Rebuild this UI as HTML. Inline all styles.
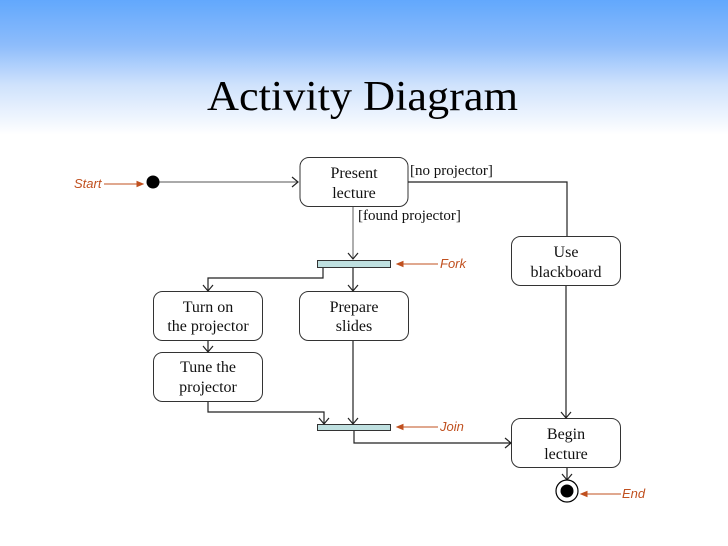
<!DOCTYPE html>
<html><head><meta charset="utf-8"><style>
html,body{margin:0;padding:0}
body{width:728px;height:546px;overflow:hidden;background:linear-gradient(to bottom,#62a8fd 0px,#8dbcfb 45px,#cfe2fc 85px,#ffffff 135px,#ffffff 546px)}
</style></head><body>
<svg width="728" height="546" xmlns="http://www.w3.org/2000/svg" style="position:absolute;left:0;top:0">
<text x="207" y="110" font-family="Liberation Serif,serif" font-size="42" textLength="311" lengthAdjust="spacingAndGlyphs" fill="#000">Activity Diagram</text>
<g fill="#fff" stroke="#333" stroke-width="1">
<rect x="300" y="157.5" width="108" height="49" rx="9"/>
<rect x="511.5" y="236.5" width="109" height="49" rx="9"/>
<rect x="153.5" y="291.5" width="109" height="49" rx="9"/>
<rect x="299.5" y="291.5" width="109" height="49" rx="9"/>
<rect x="153.5" y="352.5" width="109" height="49" rx="9"/>
<rect x="511.5" y="418.5" width="109" height="49" rx="9"/>
</g>
<g fill="#bfe0e0" stroke="#333" stroke-width="1">
<rect x="317.5" y="260.5" width="73" height="7"/>
<rect x="317.5" y="424.5" width="73" height="6"/>
</g>
<g fill="none" stroke="#222" stroke-width="1.2">
<line x1="158" y1="182" x2="298" y2="182" stroke="#777"/>
<polyline points="292,177 298,182 292,187"/>
<polyline points="408,182 567,182 567,236"/>
<line x1="353" y1="207" x2="353" y2="259" stroke="#777"/>
<polyline points="348,253 353,259 358,253"/>
<polyline points="323,268 323,278 208,278 208,291"/>
<polyline points="203,285 208,291 213,285"/>
<line x1="353" y1="268" x2="353" y2="291"/>
<polyline points="348,285 353,291 358,285"/>
<line x1="208" y1="341" x2="208" y2="352"/>
<polyline points="203,346 208,352 213,346"/>
<polyline points="208,402 208,412 324,412 324,424"/>
<polyline points="319,418 324,424 329,418"/>
<line x1="353" y1="341" x2="353" y2="424"/>
<polyline points="348,418 353,424 358,418"/>
<polyline points="354,431 354,443 511,443"/>
<polyline points="505,438 511,443 505,448"/>
<line x1="566" y1="286" x2="566" y2="418"/>
<polyline points="561,412 566,418 571,412"/>
<line x1="567" y1="468" x2="567" y2="480"/>
<polyline points="562,474 567,480 572,474"/>
</g>
<circle cx="153" cy="182" r="6.5" fill="#000"/>
<circle cx="567" cy="491" r="11" fill="#fff" stroke="#000" stroke-width="1.2"/>
<circle cx="567" cy="491" r="6.5" fill="#000"/>
<g font-family="Liberation Serif,serif" font-size="16" fill="#111" text-anchor="middle">
<text x="354" y="178">Present</text><text x="354" y="198">lecture</text>
<text x="566" y="257">Use</text><text x="566" y="277">blackboard</text>
<text x="208" y="312">Turn on</text><text x="208" y="331">the projector</text>
<text x="354" y="312">Prepare</text><text x="354" y="331">slides</text>
<text x="208" y="372">Tune the</text><text x="208" y="392">projector</text>
<text x="566" y="439">Begin</text><text x="566" y="459">lecture</text>
</g>
<g font-family="Liberation Serif,serif" font-size="15" fill="#111">
<text x="410" y="175">[no projector]</text>
<text x="358" y="220">[found projector]</text>
</g>
<g font-family="Liberation Sans,sans-serif" font-size="13" font-style="italic" fill="#c0501f">
<text x="74" y="188">Start</text>
<text x="440" y="268">Fork</text>
<text x="440" y="431">Join</text>
<text x="622" y="498">End</text>
</g>
<g stroke="#c0501f" stroke-width="1" fill="#c0501f">
<line x1="104" y1="184" x2="140" y2="184"/><polygon points="143,184 137,181.5 137,186.5"/>
<line x1="400" y1="264" x2="438" y2="264"/><polygon points="397,264 403,261.5 403,266.5"/>
<line x1="400" y1="427" x2="438" y2="427"/><polygon points="397,427 403,424.5 403,429.5"/>
<line x1="584" y1="494" x2="621" y2="494"/><polygon points="581,494 587,491.5 587,496.5"/>
</g>
</svg>
</body></html>
